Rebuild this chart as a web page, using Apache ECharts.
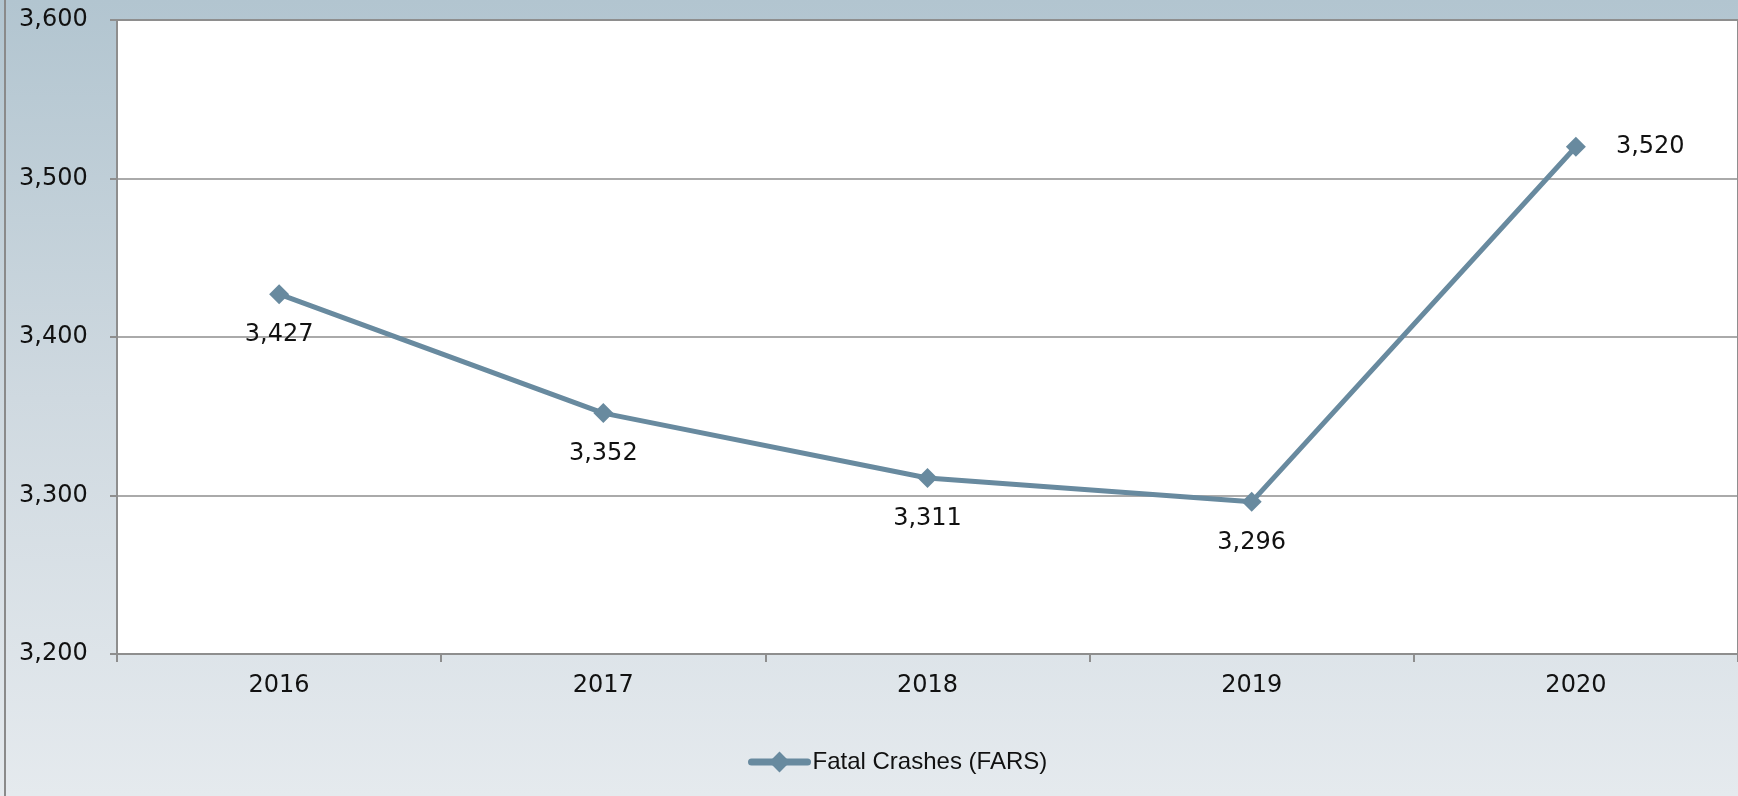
<!DOCTYPE html>
<html>
<head>
<meta charset="utf-8">
<script src="https://cdn.jsdelivr.net/npm/echarts@6/dist/echarts.min.js"></script>
<style>
  html, body { margin: 0; padding: 0; }
  #chart { width: 1738px; height: 796px; }
</style>
</head>
<body>
<div id="chart"></div>
<script>
// Yearly fatal crash counts
const years = ['2016', '2017', '2018', '2019', '2020'];
const fatalCrashes = [3427, 3352, 3311, 3296, 3520];
const seriesName = 'Fatal Crashes (FARS)';
const yMin = 3200;
const yMax = 3600;
const yStep = 100;

const lineColor = '#688a9f';
const gridGray = '#8e8e8e';
const numFont = '"DejaVu Sans", Verdana, sans-serif';
const textFont = '"Liberation Sans", Arial, sans-serif';

const fmt = v => v.toLocaleString('en-US');

const chart = echarts.init(document.getElementById('chart'), null, { renderer: 'canvas' });

chart.setOption({
  animation: false,
  backgroundColor: {
    type: 'linear', x: 0, y: 0, x2: 0, y2: 1,
    colorStops: [
      { offset: 0, color: '#b2c5d0' },
      { offset: 0.5, color: '#cfd9e0' },
      { offset: 1, color: '#e5eaee' }
    ]
  },
  textStyle: { fontFamily: textFont },
  grid: {
    left: 117, right: -8, top: 20, bottom: 142,
    show: true, backgroundColor: '#ffffff',
    borderColor: gridGray, borderWidth: 2,
    containLabel: false
  },
  legend: {
    data: [seriesName],
    left: 743, top: 745,
    itemWidth: 56, itemHeight: 26,
    itemGap: 10,
    lineStyle: { width: 7, cap: 'round' },
    textStyle: { fontSize: 24, color: '#111', fontFamily: textFont }
  },
  xAxis: {
    type: 'category',
    data: years,
    boundaryGap: true,
    axisLine: { lineStyle: { color: gridGray, width: 2 } },
    axisTick: { show: true, length: 8, lineStyle: { color: gridGray, width: 2 } },
    axisLabel: { fontSize: 24, color: '#111', margin: 20, fontFamily: numFont },
    splitLine: { show: false }
  },
  yAxis: {
    type: 'value',
    min: yMin, max: yMax, interval: yStep,
    axisLine: { show: true, lineStyle: { color: gridGray, width: 2 } },
    axisTick: { show: true, length: 7, lineStyle: { color: gridGray, width: 2 } },
    axisLabel: {
      fontSize: 24, color: '#111', align: 'left', margin: 98,
      fontFamily: numFont, formatter: v => fmt(v)
    },
    splitLine: { show: true, lineStyle: { color: gridGray, width: 1.5 } }
  },
  series: [{
    name: seriesName,
    type: 'line',
    data: fatalCrashes.map((v, i) => ({
      value: v,
      label: i === fatalCrashes.length - 1
        ? { position: 'right', distance: 30 }
        : { position: 'bottom', distance: 19 }
    })),
    symbol: 'diamond',
    symbolSize: 20,
    lineStyle: { color: lineColor, width: 5 },
    itemStyle: { color: lineColor },
    label: {
      show: true,
      fontSize: 24,
      color: '#111',
      fontFamily: numFont,
      formatter: p => fmt(p.value)
    }
  }],
  graphic: [{
    type: 'line',
    shape: { x1: 5, y1: 0, x2: 5, y2: 796 },
    style: { stroke: '#8a8a8a', lineWidth: 2 },
    z: 100
  }]
});
</script>
</body>
</html>
